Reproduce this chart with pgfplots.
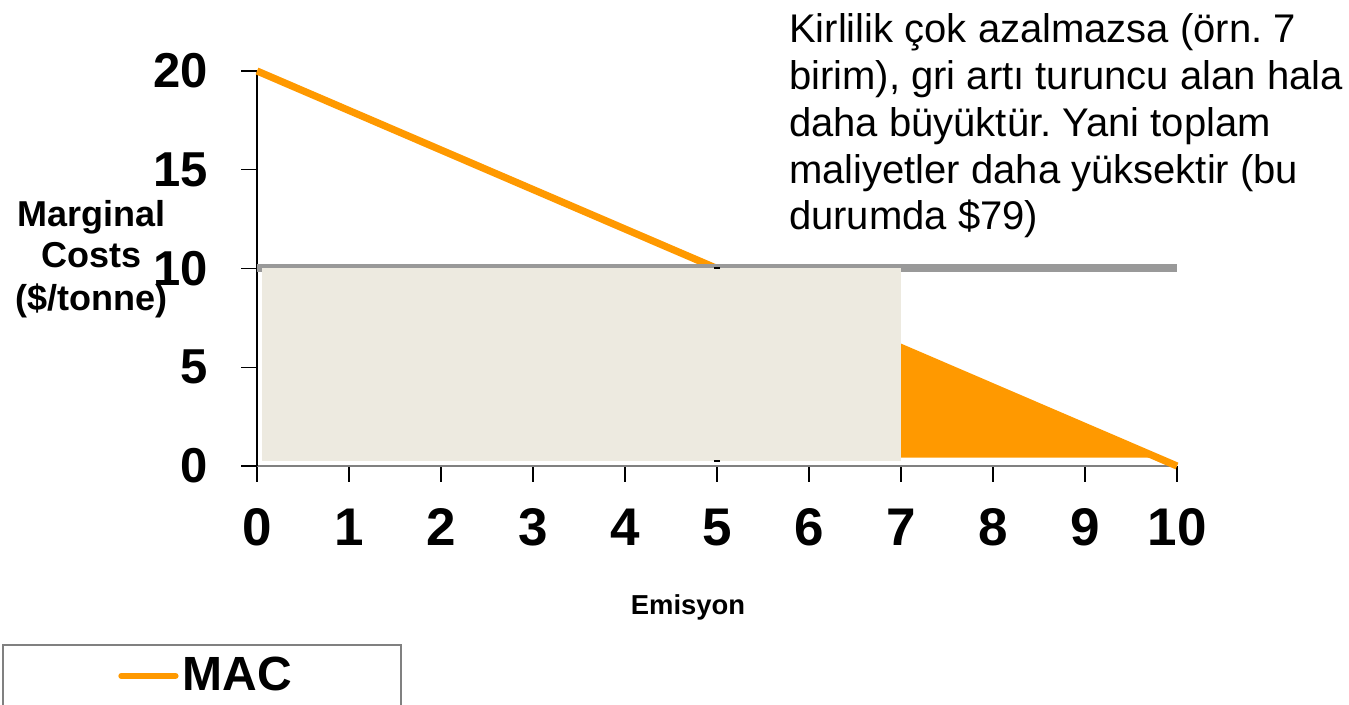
\documentclass[border=0pt]{standalone}
\usepackage{pgfplots}
\pgfplotsset{compat=1.18}
\usepackage{fontspec}
\setmainfont{Liberation Sans}
\definecolor{macorange}{RGB}{255,153,0}
\definecolor{boxbeige}{RGB}{237,234,224}
\definecolor{linegray}{RGB}{153,153,153}
\definecolor{axisgray}{RGB}{128,128,128}
\frenchspacing

\begin{document}
\begin{tikzpicture}
\path[use as bounding box] (0,0) rectangle (674.5pt,352.5pt);
\begin{axis}[
    at={(128.5pt,119.5pt)}, anchor=south west,
    scale only axis, width=460pt, height=197.5pt,
    xmin=0, xmax=10, ymin=0, ymax=20,
    axis x line=bottom, axis y line=left,
    x axis line style={-, axisgray, line width=0.75pt},
    y axis line style={-, black, line width=0.6pt},
    xtick={0,...,10}, ytick={0,5,...,20},
    tick align=outside, major tick length=8pt,
    tick style={black, line width=0.6pt},
    /pgf/number format/assume math mode=true,
    xticklabel style={font=\fontsize{26.5}{30}\selectfont\bfseries, anchor=base, yshift=-32pt},
    yticklabel style={font=\fontsize{24.5}{28}\selectfont\bfseries, anchor=east, inner sep=0pt, xshift=-16.5pt},
    clip=false,
]
% marginal abatement cost line
\addplot[macorange, line width=3.6pt] coordinates {(0,20)(10,0)};
% orange area right of 7 units
\addplot[fill=macorange, draw=none] coordinates {(7,0.42)(7,6)(9.8,0.42)} -- cycle;
% tax line
\addplot[linegray, line width=4pt] coordinates {(0,10)(10,10)};
% grey area (tax paid)
\addplot[fill=boxbeige, draw=none] coordinates {(0.05,0.25)(0.05,10)(7,10)(7,0.25)} -- cycle;
\addplot[only marks, mark=-, mark size=1.6pt, black, line width=1pt] coordinates {(5,10)(5,0.25)};

% y label
\node[anchor=base, font=\fontsize{18}{21}\selectfont\bfseries] at (axis cs:-1.804,12.15) {Marginal};
\node[anchor=base, font=\fontsize{18}{21}\selectfont\bfseries] at (axis cs:-1.804,10.03) {Costs};
\node[anchor=base, font=\fontsize{18}{21}\selectfont\bfseries] at (axis cs:-1.804,7.85) {(\$/tonne)};
% x label
\node[font=\fontsize{13.7}{16}\selectfont\bfseries] at (axis cs:4.685,-7.14) {Emisyon};

% annotation
\node[anchor=base west, inner sep=0pt, font=\fontsize{20}{23}\selectfont] at (axis cs:5.78,21.42) {Kirlilik çok azalmazsa (örn. 7};
\node[anchor=base west, inner sep=0pt, font=\fontsize{20}{23}\selectfont] at (axis cs:5.78,19.05) {birim), gri artı turuncu alan hala};
\node[anchor=base west, inner sep=0pt, font=\fontsize{20}{23}\selectfont] at (axis cs:5.78,16.68) {daha büyüktür. Yani toplam};
\node[anchor=base west, inner sep=0pt, font=\fontsize{20}{23}\selectfont] at (axis cs:5.78,14.32) {maliyetler daha yüksektir (bu};
\node[anchor=base west, inner sep=0pt, font=\fontsize{20}{23}\selectfont] at (axis cs:5.78,11.95) {durumda \$79)};

% legend
\draw[axisgray, line width=0.75pt] (axis cs:-2.76,-9.06) rectangle (axis cs:1.565,-14);
\draw[macorange, line width=3pt, line cap=round] (axis cs:-1.475,-10.63) -- (axis cs:-0.885,-10.63);
\node[anchor=west, inner sep=0pt, font=\fontsize{24}{28}\selectfont\bfseries] at (axis cs:-0.815,-10.52) {MAC};
\end{axis}
\end{tikzpicture}
\end{document}
